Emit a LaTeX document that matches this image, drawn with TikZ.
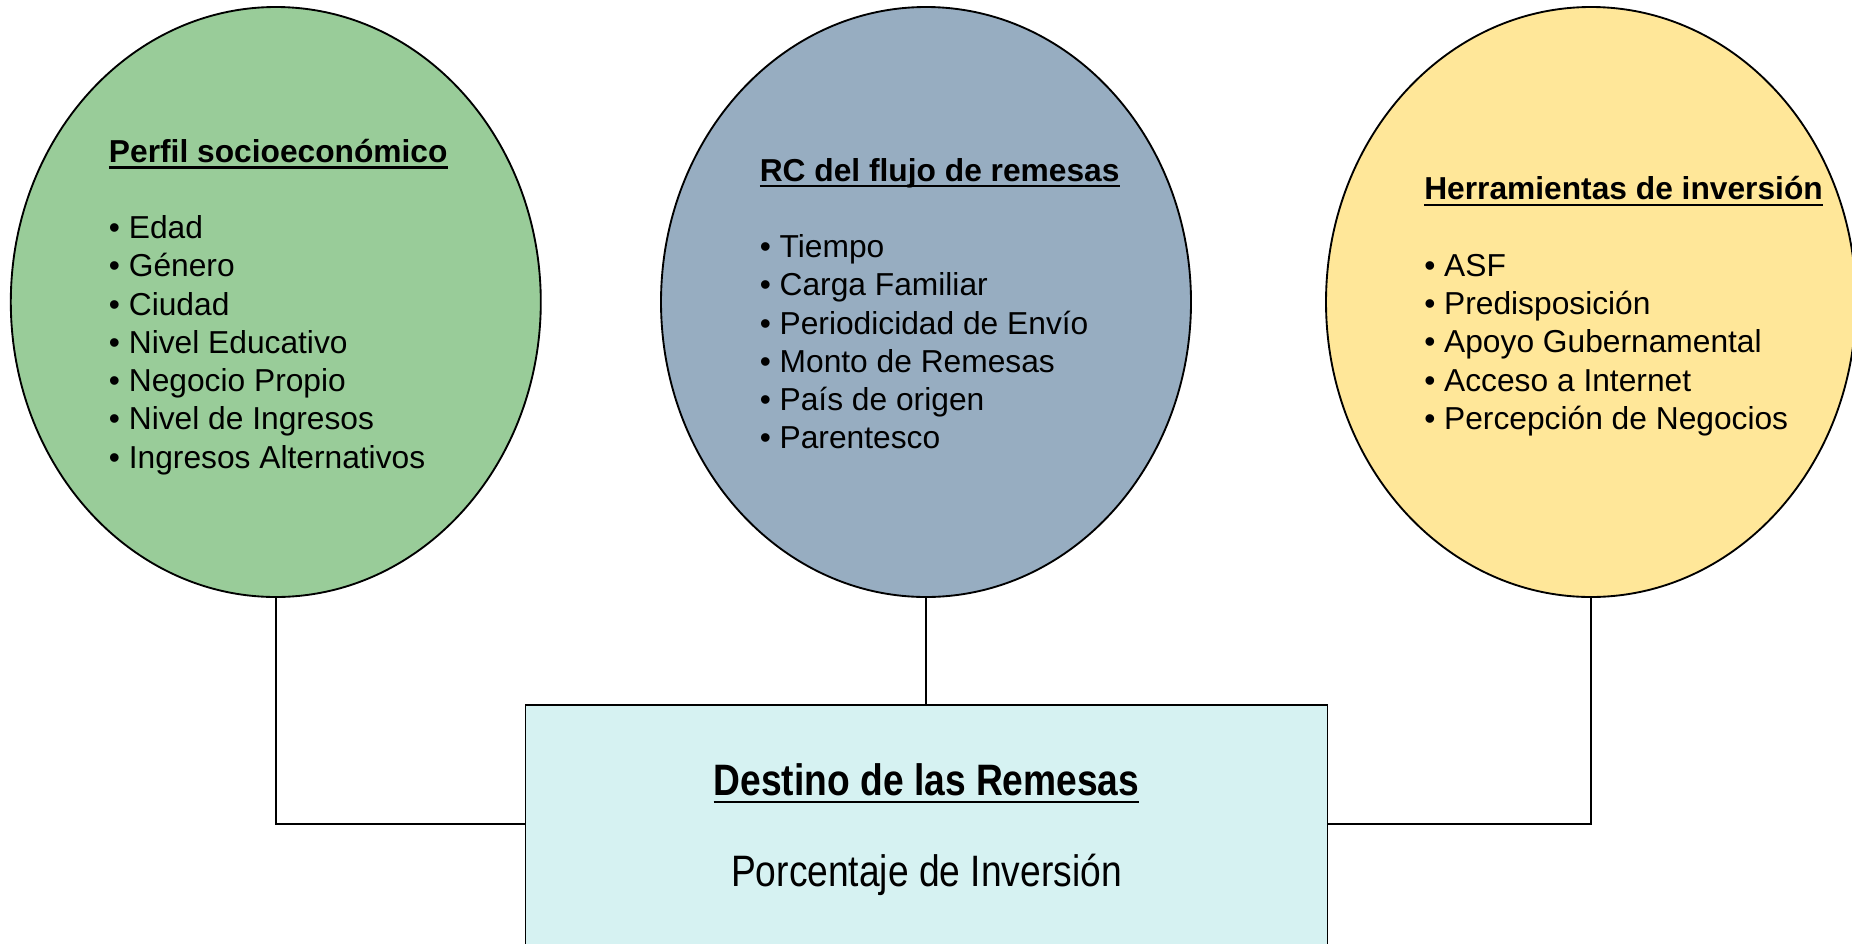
\documentclass[tikz,border=0pt]{standalone}
\usepackage{xcolor}
\usepackage{fontspec}
\setmainfont{Liberation Sans}
\newfontfamily\narrowfont[FakeStretch=0.845]{Liberation Sans}
\usepackage{tikz}
\usetikzlibrary{shapes.geometric}
\definecolor{perfilgreen}{RGB}{153, 204, 153}
\definecolor{flujoblue}{RGB}{151, 173, 193}
\definecolor{herryellow}{RGB}{255, 231, 153}
\definecolor{destcyan}{RGB}{214, 242, 242}
% underline with a thicker rule
\newcommand{\undl}[2][4.8pt]{\setbox0\hbox{#2}\rlap{\raisebox{-#1}{\rule{\wd0}{1.8pt}}}\box0}
\newcommand{\ttl}[1]{\rule{0pt}{25pt}\textbf{\undl{#1}}}

\begin{document}
\begin{tikzpicture}[x=0.75pt,y=0.75pt,yscale=-1,xscale=1,
  ell/.style={ellipse, draw, line width=1.4pt, minimum width=397.5pt, minimum height=442.5pt, inner sep=0pt},
  listtxt/.style={anchor=north west, inner sep=0pt, align=left, font=\fontsize{23.8pt}{28.7pt}\selectfont},
  destbox/.style={draw, line width=1.4pt, fill=destcyan, anchor=north, minimum width=601.5pt, minimum height=187.8pt, align=center, font=\narrowfont\fontsize{33pt}{68.25pt}\selectfont},
  link/.style={line width=1.4pt}]
\path[use as bounding box, clip] (0,0) rectangle (1852,943);

%Shape: Ellipse
\node (lell) at (275.8,302) [ell, fill=perfilgreen] {};
%Shape: Ellipse
\node (mell) at (926,302) [ell, fill=flujoblue] {};
%Shape: Ellipse
\node (rell) at (1591,302) [ell, fill=herryellow] {};
%Shape: Rectangle
\node (dest) at (926.5,704) [destbox] {\rule{0pt}{25pt}\textbf{\undl[5.5pt]{Destino de las Remesas}}\\ Porcentaje de Inversión\rule[-8pt]{0pt}{8pt}};

%Straight Lines
\draw [link] (lell.south) |- ([yshift=-4.6pt]dest.west) ;
%Straight Lines
\draw [link] (mell.south) -- (mell.south |- dest.north) ;
%Straight Lines
\draw [link] (rell.south) |- ([yshift=-4.6pt]dest.east) ;

% Text Node
\node (ltxt) at (108.7,128.5) [listtxt] {\ttl{Perfil socioeconómico}\\[28.7pt]
  • Edad\\ • Género\\ • Ciudad\\ • Nivel Educativo\\ • Negocio Propio\\ • Nivel de Ingresos\\ • Ingresos Alternativos};
% Text Node
\node (mtxt) at (759.5,147.4) [listtxt] {\ttl{RC del flujo de remesas}\\[28.7pt]
  • Tiempo\\ • Carga Familiar\\ • Periodicidad de Envío\\ • Monto de Remesas\\ • País de origen\\ • Parentesco};
% Text Node
\node (rtxt) at (1424,166.3) [listtxt] {\ttl{Herramientas de inversión}\\[28.7pt]
  • ASF\\ • Predisposición\\ • Apoyo Gubernamental\\ • Acceso a Internet\\ • Percepción de Negocios};

\end{tikzpicture}
\end{document}
